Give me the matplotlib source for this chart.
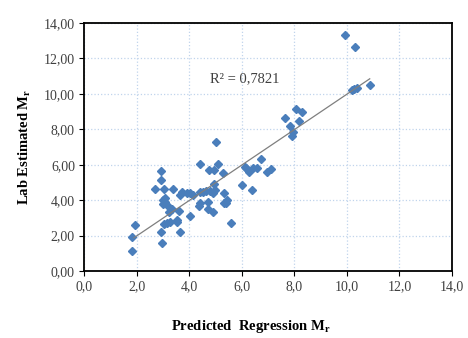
import matplotlib
matplotlib.use('Agg')
import matplotlib.pyplot as plt
from matplotlib.ticker import FuncFormatter

plt.rcParams['font.family'] = ['Liberation Serif', 'DejaVu Serif']
plt.rcParams['mathtext.fontset'] = 'custom'
plt.rcParams['mathtext.rm'] = 'Liberation Serif'
plt.rcParams['mathtext.bf'] = 'Liberation Serif:bold'

# predicted (regression) vs lab estimated Mr
predicted = [9.94, 10.32, 10.87, 10.18, 10.37, 10.28, 7.64, 8.06, 8.31, 8.19, 7.83, 7.96, 7.90,
             6.73, 6.16, 6.29, 6.12, 6.44, 6.57, 6.95, 7.10, 6.00, 6.40, 5.60,
             5.02, 4.41, 5.11, 5.27, 4.77, 4.94, 4.96, 4.98, 4.92, 5.32, 5.45, 5.40, 5.32,
             4.92, 4.73, 4.73, 4.41, 4.38, 4.54, 4.41, 4.79, 4.63, 4.03, 3.90, 3.71, 3.65,
             4.16, 4.03, 3.62, 3.65, 3.52, 3.52, 3.36, 3.37, 3.27, 3.24, 3.14, 3.08, 3.02,
             2.99, 3.10, 3.05, 2.93, 2.93, 2.71, 2.93, 2.97, 3.04, 3.14, 1.81, 1.81, 1.95]
lab = [13.31, 12.65, 10.51, 10.21, 10.34, 10.28, 8.61, 9.15, 8.98, 8.48, 8.18, 7.86, 7.61,
       6.30, 5.79, 5.60, 5.88, 5.79, 5.79, 5.60, 5.77, 4.85, 4.57, 2.73,
       7.29, 6.07, 6.02, 5.55, 5.70, 5.73, 4.94, 4.57, 4.42, 4.42, 4.00, 3.85, 3.82,
       3.35, 3.91, 3.53, 3.82, 3.68, 4.47, 4.47, 4.53, 4.53, 4.38, 4.42, 4.47, 4.29,
       4.29, 3.10, 3.38, 2.18, 2.78, 2.88, 3.50, 4.61, 2.78, 3.35, 3.72, 3.91, 4.00,
       3.78, 4.10, 4.61, 5.13, 5.62, 4.61, 2.22, 1.60, 2.63, 2.72, 1.90, 1.15, 2.59]

# linear trendline end points
trend_x = [1.90, 10.87]
trend_y = [1.88, 10.85]
r2_label = 'R² = 0,7821'

fig = plt.figure(figsize=(4.68, 3.38), dpi=100)
ax = fig.add_axes([0.1795, 0.198, 0.7863, 0.734])

ax.plot(predicted, lab, linestyle='none', marker='D', markersize=4.0,
        color='#4a7ebb', markeredgecolor='#4a7ebb', zorder=3)
ax.plot(trend_x, trend_y, color='#7f7f7f', linewidth=0.9, zorder=4)

ax.text(4.8, 10.85, r2_label, fontsize=10.5, color='#404040', va='center', ha='left')

ax.set_xlim(0, 14)
ax.set_ylim(0, 14)
ax.set_xticks(range(0, 15, 2))
ax.set_yticks(range(0, 15, 2))
ax.xaxis.set_major_formatter(FuncFormatter(lambda v, p: ('%.1f' % v).replace('.', ',')))
ax.yaxis.set_major_formatter(FuncFormatter(lambda v, p: ('%.2f' % v).replace('.', ',')))

ax.grid(True, color='#c0d4ec', linestyle=':', linewidth=0.9)
ax.set_axisbelow(True)
for s in ax.spines.values():
    s.set_linewidth(1.3)
    s.set_color('black')
ax.tick_params(direction='out', length=3.5, width=0.8, labelsize=10, colors='black',
               labelcolor='#404040', pad=3)

ax.set_ylabel('Lab Estimated M$_\\mathregular{r}$', fontsize=10.5, fontweight='bold', labelpad=8)
fig.text(0.535, 0.008, 'Predicted  Regression M$_\\mathregular{r}$', fontsize=10.5,
         fontweight='bold', ha='center', va='bottom')

fig.savefig('out.png', dpi=100)
